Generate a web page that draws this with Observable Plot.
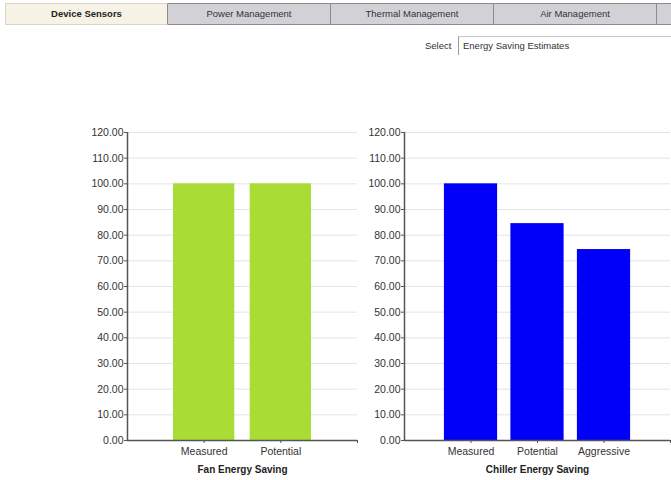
<!DOCTYPE html>
<html><head><meta charset="utf-8">
<script src="https://cdn.jsdelivr.net/npm/d3@7"></script>
<script src="https://cdn.jsdelivr.net/npm/@observablehq/plot@0.6"></script>
<style>
html,body{margin:0;padding:0;background:#fff}
body{width:671px;height:480px;overflow:hidden;position:relative;font-family:"Liberation Sans",Arial,sans-serif}
.tabs{position:absolute;left:5px;top:3px;height:22px;display:flex}
.tab{box-sizing:border-box;width:163px;height:22px;border:1px solid #8c8c8c;border-left:none;background:#d2d2d6;font-size:9.5px;color:#333;text-align:center;line-height:20px;white-space:nowrap;overflow:hidden}
.tab.first{border-left:1px solid #d8d4c8;border-color:#d8d4c8;background:#f6f2e6;font-weight:bold;color:#222;border-right:1px solid #8c8c8c}
.sel{position:absolute;left:425px;top:40px;font-size:9.5px;color:#333}
.box{position:absolute;left:458px;top:36px;width:220px;height:19px;box-sizing:border-box;border-left:1px solid #9a9a9a;border-top:1px solid #c8c8c8;font-size:9.5px;color:#333;padding:3px 0 0 4px}
.chart{position:absolute;top:120px}
</style></head>
<body>
<div class="tabs" id="tabs"></div>
<div class="sel">Select</div>
<div class="box" id="selbox"></div>
<div class="chart" id="left" style="left:80px"></div>
<div class="chart" id="right" style="left:360px"></div>
<script>
const tabLabels = ["Device Sensors", "Power Management", "Thermal Management", "Air Management", ""];
const selectLabel = "Energy Saving Estimates";

const fanCategories = ["Measured", "Potential"];
const fanValues = [100, 100];
const fanTitle = "Fan Energy Saving";

const chillerCategories = ["Measured", "Potential", "Aggressive"];
const chillerValues = [100, 84.5, 74.4];
const chillerTitle = "Chiller Energy Saving";

const yTicks = [0, 10, 20, 30, 40, 50, 60, 70, 80, 90, 100, 110, 120];

const tabs = document.getElementById("tabs");
tabLabels.forEach((t, i) => {
  const d = document.createElement("div");
  d.className = "tab" + (i === 0 ? " first" : "");
  d.textContent = t;
  tabs.appendChild(d);
});
document.getElementById("selbox").textContent = selectLabel;

function chart(cats, vals, title, color, width, marginLeft, marginRight, nSlots) {
  const data = cats.map((c, i) => ({i: i + 1, c, v: vals[i]}));
  const xt = d3.range(1, nSlots + 1);
  return Plot.plot({
    width, height: 360,
    marginLeft, marginRight, marginTop: 12, marginBottom: 40,
    style: {fontFamily: "'Liberation Sans', Arial, sans-serif", fontSize: "10.5px", color: "#333", background: "white"},
    x: {domain: [0, nSlots], axis: null, label: null},
    y: {domain: [0, 120], axis: null, label: null},
    marks: [
      Plot.gridY(yTicks, {stroke: "#e4e4e4", strokeOpacity: 1}),
      Plot.rectY(data, {x1: d => d.i - 0.4, x2: d => d.i + 0.4, y1: 0, y2: "v", fill: color}),
      Plot.axisY({ticks: yTicks, label: null, tickFormat: d => d.toFixed(2), tickSize: 3, tickPadding: 1, stroke: "#555", fill: "#333"}),
      Plot.axisX({ticks: xt, label: null, tickFormat: d => cats[d - 1] ?? "", tickSize: 3, tickPadding: 4, stroke: "#555", fill: "#333"}),
      Plot.ruleX([0], {stroke: "#555", strokeWidth: 1.5}),
      Plot.ruleY([0], {stroke: "#555", strokeWidth: 1.5}),
      Plot.text([title], {frameAnchor: "bottom", dy: 32, fontWeight: "bold", fill: "#222", fontSize: 10})
    ]
  });
}

document.getElementById("left").appendChild(chart(fanCategories, fanValues, fanTitle, "#a9dc35", 280, 47, 3, 3));
document.getElementById("right").appendChild(chart(chillerCategories, chillerValues, chillerTitle, "#0000f8", 311, 44, 1, 4));
</script>
</body></html>
